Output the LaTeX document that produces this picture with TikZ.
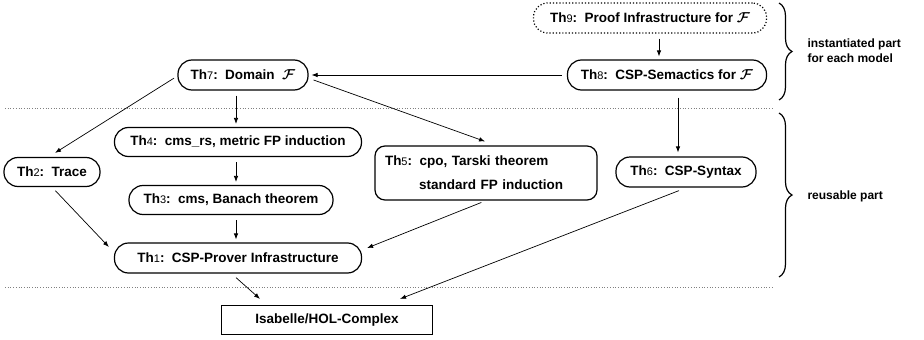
\documentclass[tikz,border=0pt]{standalone}
\usepackage{fontspec}
\setmainfont{Liberation Sans}
\usetikzlibrary{arrows.meta,decorations.pathreplacing}

% theory tag: "Th" with a small, light number
\newcommand\thno[1]{Th{\fontsize{11}{13}\selectfont\mdseries #1}:\hspace{0.55em}}
\newcommand\famF{{\boldmath$\mathcal{F}$}}

\tikzset{
  theory/.style={draw, line width=1.2pt, rounded corners=14pt, minimum height=30pt,
    inner sep=0pt, font=\fontsize{13.5}{16}\selectfont\bfseries},
  conn/.style={-{Latex[length=6pt,width=4.5pt]}, line width=0.7pt,
    shorten <=5pt, shorten >=3pt},
  sep/.style={gray, dotted, line width=0.7pt},
  grp/.style={decorate, decoration={brace, amplitude=13pt, aspect=0.5}, line width=1.2pt},
  grplabel/.style={anchor=west, align=left, font=\fontsize{12}{15}\selectfont\bfseries},
}

\begin{document}
\begin{tikzpicture}[x=1pt, y=-1pt]
\useasboundingbox (0,0) rectangle (924,340);

% layer separators
\draw[sep] (5,108) -- (773,108);
\draw[sep] (5,287) -- (773,287);

% theories
\node[theory, dotted, minimum width=233pt] (th9) at (650,18) {\thno{9}Proof Infrastructure for \famF};
\node[theory, minimum width=199pt] (th8) at (667,75) {\thno{8}CSP-Semactics for \famF};
\node[theory, minimum width=130pt] (th7) at (243,75) {\thno{7}Domain \ \famF};
\node[theory, minimum width=247pt, minimum height=29pt] (th4) at (238,142) {\thno{4}cms\_rs, metric FP induction};
\node[theory, minimum width=96pt, minimum height=29pt] (th2) at (52,172) {\thno{2}Trace};
\node[theory, minimum width=204pt, minimum height=29pt] (th3) at (231,200) {\thno{3}cms, Banach theorem};
\node[theory, rounded corners=10pt, minimum height=54pt, text width=202pt,
      inner xsep=10pt, align=left] (th5) at (486,173)
  {\thno{5}cpo, Tarski theorem\\[8pt] \hspace*{34pt}standard FP induction};
\node[theory, minimum width=140pt] (th6) at (686,172) {\thno{6}CSP-Syntax};
\node[theory, minimum width=247pt] (th1) at (238,258) {\thno{1}CSP-Prover Infrastructure};
\node[draw, line width=1.2pt, minimum width=211pt, minimum height=29pt,
      font=\fontsize{13.5}{16}\selectfont\bfseries] (isa) at (327,320) {Isabelle/HOL-Complex};

% dependencies
\draw[conn] ([xshift=9pt]th9.south) -- ([xshift=9pt]th9.south |- th8.north);
\draw[conn] (th8.west) -- (th7.east);
\draw[conn] ([xshift=-7pt]th7.south) -- ([xshift=-7pt]th7.south |- th4.north);
\draw[conn, shorten <=4pt, shorten >=0pt] ([yshift=-1pt]th7.west) -- ([xshift=3pt,yshift=4pt]th2.north);
\draw[conn, shorten <=0pt, shorten >=0pt] ([xshift=5pt,yshift=-5pt]th7.east) -- ([xshift=-1pt,yshift=4pt]th5.north);
\draw[conn, shorten <=7pt, shorten >=4pt] ([xshift=11pt]th8.south) -- ([xshift=11pt]th8.south |- th6.north);
\draw[conn] ([xshift=-2pt]th4.south) -- ([xshift=-2pt]th4.south |- th3.north);
\draw[conn] ([xshift=5pt]th3.south) -- ([xshift=5pt]th3.south |- th1.north);
\draw[conn, shorten >=0pt] (th2.south) -- ([xshift=-5pt,yshift=11pt]th1.west);
\draw[conn, shorten >=0pt] (th5.south) -- ([xshift=5pt,yshift=10pt]th1.east);
\draw[conn, shorten <=0pt, shorten >=0pt] ([xshift=-2pt,yshift=-4pt]th1.south) -- ([xshift=-67pt,yshift=6pt]isa.north);
\draw[conn, shorten <=0pt, shorten >=0pt] ([xshift=-7pt,yshift=-3pt]th6.south) -- ([xshift=73pt,yshift=6pt]isa.north);

% model-specific and reusable groups
\draw[grp] (779,3) -- (779,100);
\draw[grp] (779,113) -- (779,277);
\node[grplabel] (lblinst) at (804,51) {instantiated part\\for each model};
\node[grplabel] (lblreuse) at (804,196) {reusable part};
\end{tikzpicture}
\end{document}
